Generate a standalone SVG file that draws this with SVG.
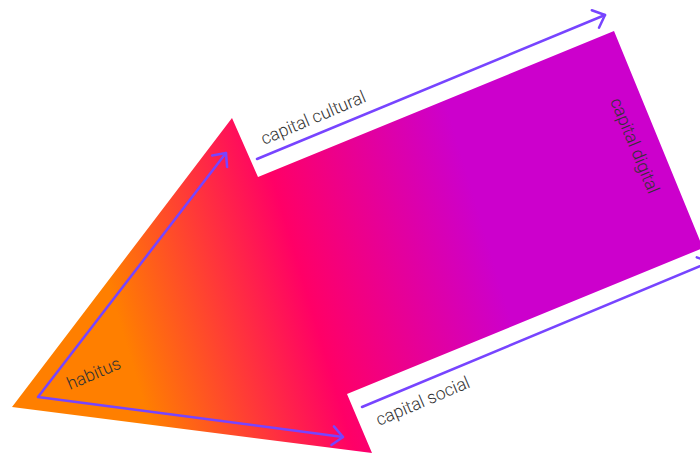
<svg xmlns="http://www.w3.org/2000/svg" width="700" height="456" viewBox="0 0 700 456">
  <style>
    .lbl { font-family: Roboto, "Liberation Sans", sans-serif; font-size: 17.5px; font-weight: 300; fill: #333333; }
    .conn { fill: none; stroke: #7744FF; stroke-width: 2.5; stroke-linecap: round; stroke-linejoin: round; }
  </style>
  <defs>
    <linearGradient id="grad" gradientUnits="userSpaceOnUse" x1="100" y1="330" x2="500" y2="210">
      <stop offset="0.05" stop-color="#FF7F00"/>
      <stop offset="0.5" stop-color="#FF0066"/>
      <stop offset="0.95" stop-color="#CC00CC"/>
    </linearGradient>
    <marker id="head" markerUnits="userSpaceOnUse" viewBox="0 0 20 30" markerWidth="20" markerHeight="30" refX="15" refY="15" orient="auto-start-reverse" overflow="visible">
      <path d="M4.6,5.6 L15,15 L4.6,24.4" fill="none" stroke="#7744FF" stroke-width="2.5" stroke-linecap="round" stroke-linejoin="round"/>
    </marker>
  </defs>
  <rect width="700" height="456" fill="#FFFFFF"/>
  <g id="big-arrow">
    <polygon points="12,407 232,118 258,177 614,31 703,248 347,394 372,453" fill="url(#grad)"/>
  </g>
  <g id="connectors">
    <path class="conn" d="M226,153 L38,397 L343,437" marker-start="url(#head)" marker-end="url(#head)"/>
    <path class="conn" d="M257,159 L605,15" marker-end="url(#head)"/>
    <path class="conn" d="M362,407 L710,262" marker-end="url(#head)"/>
  </g>
  <g id="labels">
    <text class="lbl" transform="translate(264,145) rotate(-23)">capital cultural</text>
    <text class="lbl" transform="translate(379,426) rotate(-23)">capital social</text>
    <text class="lbl" transform="translate(70,390) rotate(-23)">habitus</text>
    <text class="lbl" transform="translate(610,101) rotate(67.5)">capital digital</text>
  </g>
</svg>
